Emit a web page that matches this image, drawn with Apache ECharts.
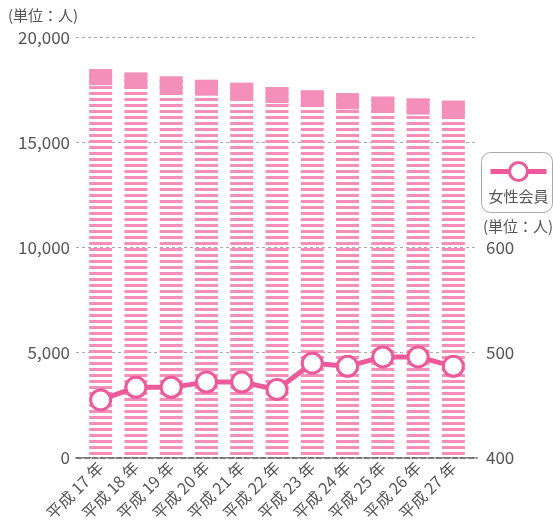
<!DOCTYPE html>
<html>
<head>
<meta charset="utf-8">
<script src="https://cdn.jsdelivr.net/npm/echarts@6/dist/echarts.min.js"></script>
<style>
  * { margin: 0; padding: 0; }
  html, body { width: 553px; height: 526px; background: #fff; }
  #chart { width: 553px; height: 526px; }
</style>
</head>
<body>
<div id="chart"></div>
<script>
// 年度
var years = ['平成 17 年', '平成 18 年', '平成 19 年', '平成 20 年', '平成 21 年', '平成 22 年',
             '平成 23 年', '平成 24 年', '平成 25 年', '平成 26 年', '平成 27 年'];
// 会員数（左軸）
var members = [18500, 18350, 18150, 18000, 17850, 17650, 17500, 17350, 17200, 17100, 17000];
// 女性会員（右軸）
var women = [455, 467, 467, 472, 472, 465, 490, 487, 496, 496, 487];
// 軸目盛
var leftTicks = [0, 5000, 10000, 15000, 20000];
var rightTicks = [400, 500, 600];

var barColor = '#F48FBA';
var lineColor = '#EC5A9C';
var textColor = '#555';
var font = '"Noto Sans CJK JP", "Noto Sans", sans-serif';

// しま模様
var stripeCanvas = document.createElement('canvas');
stripeCanvas.width = 6;
stripeCanvas.height = 6;
var sctx = stripeCanvas.getContext('2d');
sctx.fillStyle = barColor;
sctx.fillRect(0, 2, 6, 3);
var stripe = { image: stripeCanvas, repeat: 'repeat' };

function renderBar(params, api) {
    var top = api.coord([api.value(0), api.value(1)]);
    var base = api.coord([api.value(0), 0]);
    var w = 23;
    var x = top[0] - w / 2;
    return {
        type: 'group',
        children: [
            { type: 'rect', shape: { x: x, y: top[1], width: w, height: base[1] - top[1] }, style: { fill: stripe } },
            { type: 'rect', shape: { x: x, y: top[1], width: w, height: 16 }, style: { fill: barColor } }
        ]
    };
}

var chart = echarts.init(document.getElementById('chart'));
chart.setOption({
    animation: false,
    textStyle: { fontFamily: font },
    grid: [
        { left: 76, right: 76, top: 37.7, bottom: 68.3 },
        { left: 83, right: 82, top: 37.7, bottom: 68.3 }
    ],
    xAxis: [
        {
            type: 'category', gridIndex: 0, data: years,
            axisLine: { lineStyle: { color: textColor, width: 1.5, type: [6, 2] } },
            axisTick: { show: false }, axisLabel: { show: false }
        },
        {
            type: 'category', gridIndex: 1, data: years,
            axisLine: { show: false }, axisTick: { show: false },
            axisLabel: { interval: 0, rotate: 45, margin: 7, color: textColor, fontSize: 16, fontFamily: font }
        }
    ],
    yAxis: [
        {
            type: 'value', gridIndex: 0, min: 0, max: 20000, interval: 5000,
            axisLine: { show: false }, axisTick: { show: false },
            axisLabel: {
                color: textColor, fontSize: 17, margin: 6, fontFamily: font,
                formatter: function (v) { return leftTicks.indexOf(v) >= 0 ? v.toLocaleString('en-US') : ''; }
            },
            splitLine: { lineStyle: { color: '#aaa', type: [3, 3] } }
        },
        {
            type: 'value', gridIndex: 0, position: 'right', min: 400, max: 800, interval: 100,
            axisLine: { show: false }, axisTick: { show: false },
            axisLabel: {
                color: textColor, fontSize: 17, margin: 9, fontFamily: font,
                formatter: function (v) { return rightTicks.indexOf(v) >= 0 ? String(v) : ''; }
            },
            splitLine: { show: false }
        },
        { type: 'value', gridIndex: 1, min: 0, max: 20000, show: false },
        { type: 'value', gridIndex: 1, min: 400, max: 800, show: false }
    ],
    graphic: [
        { type: 'text', left: 8, top: 8, style: { text: '(単位：人)', fill: textColor, font: '15px ' + font } },
        { type: 'text', left: 483, top: 219, style: { text: '(単位：人)', fill: textColor, font: '15px ' + font } },
        {
            type: 'group', left: 481, top: 152,
            children: [
                { type: 'rect', shape: { x: 0, y: 0, width: 71, height: 60, r: 9 }, style: { fill: '#fff', stroke: '#aaa', lineWidth: 1 } },
                { type: 'line', shape: { x1: 9, y1: 19, x2: 65, y2: 19 }, style: { stroke: lineColor, lineWidth: 5 } },
                { type: 'circle', shape: { cx: 37, cy: 19, r: 9 }, style: { fill: '#fff', stroke: lineColor, lineWidth: 3 } },
                { type: 'text', x: 37, y: 44, style: { text: '女性会員', fill: textColor, font: '15px ' + font, align: 'center', verticalAlign: 'middle' } }
            ]
        }
    ],
    series: [
        {
            name: '会員数', type: 'custom', xAxisIndex: 1, yAxisIndex: 2,
            renderItem: renderBar, encode: { x: 0, y: 1 },
            data: members.map(function (v, i) { return [i, v]; }), z: 2
        },
        {
            name: '女性会員', type: 'line', xAxisIndex: 1, yAxisIndex: 3,
            data: women, symbol: 'circle', symbolSize: 20, z: 5,
            lineStyle: { color: lineColor, width: 5 },
            itemStyle: { color: '#fff', borderColor: lineColor, borderWidth: 3 }
        }
    ]
});
</script>
</body>
</html>
